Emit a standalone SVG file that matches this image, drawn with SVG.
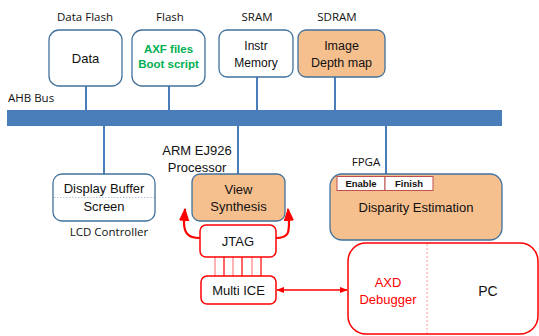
<svg xmlns="http://www.w3.org/2000/svg" width="539" height="336" viewBox="0 0 539 336">
  <defs>
    <style>
      .lbl { font-family: "Open Sans", "Liberation Sans", sans-serif; font-size: 11.5px; fill: #111; }
      .txt { font-family: "Liberation Sans", Arial, sans-serif; font-size: 13px; fill: #111; }
      .blue { fill: #ffffff; stroke: #41719C; stroke-width: 1.3; }
      .orange { fill: #F6BF8E; stroke: #41719C; stroke-width: 1.3; }
      .red { fill: #ffffff; stroke: #FF0000; stroke-width: 1.5; }
      .link { stroke: #4A7EBB; stroke-width: 2; fill: none; }
      .rline { stroke: #FF0000; stroke-width: 1.2; }
      .rline2 { stroke: #FF8080; stroke-width: 1.2; }
      .tag { fill: #ffffff; stroke: #C0504D; stroke-width: 1; }
      .tagtxt { font-family: "Liberation Sans", Arial, sans-serif; font-size: 9.5px; font-weight: bold; fill: #111; }
    </style>
    <marker id="arr" viewBox="0 0 10 10" refX="9" refY="5" markerWidth="6" markerHeight="6" orient="auto-start-reverse">
      <path d="M0,1 L10,5 L0,9 z" fill="#FF0000"/>
    </marker>
  </defs>

  <!-- bus and its links -->
  <g id="connectors">
    <rect x="7" y="110" width="495" height="16" fill="#4A7EBB"/>
    <line class="link" x1="86" y1="86" x2="86" y2="110"/>
    <line class="link" x1="169" y1="86" x2="169" y2="110"/>
    <line class="link" x1="257" y1="77" x2="257" y2="110"/>
    <line class="link" x1="335" y1="77" x2="335" y2="110"/>
    <line class="link" x1="104" y1="126" x2="104" y2="174"/>
    <line class="link" x1="238" y1="126" x2="238" y2="174"/>
    <line class="link" x1="386" y1="126" x2="386" y2="174"/>
    <!-- JTAG to processor -->
    <path d="M200,238 C187,238 184,232 184,222 L185,209" fill="none" stroke="#FF0000" stroke-width="2.2" marker-end="url(#arr)"/>
    <path d="M276,238 C289,238 289,232 289,222 L288,209" fill="none" stroke="#FF0000" stroke-width="2.2" marker-end="url(#arr)"/>
    <!-- JTAG to Multi ICE wires -->
    <line class="rline2" x1="215" y1="257" x2="215" y2="276"/>
    <line class="rline" x1="224" y1="257" x2="224" y2="276"/>
    <line class="rline2" x1="233" y1="257" x2="233" y2="276"/>
    <line class="rline" x1="242" y1="257" x2="242" y2="276"/>
    <line class="rline2" x1="252" y1="257" x2="252" y2="276"/>
    <line class="rline" x1="261" y1="257" x2="261" y2="276"/>
    <!-- Multi ICE to PC -->
    <line x1="277" y1="290" x2="347" y2="290" stroke="#FF0000" stroke-width="1.3" marker-start="url(#arr)" marker-end="url(#arr)"/>
  </g>

  <text class="lbl" x="8" y="102">AHB Bus</text>

  <g id="data-flash">
    <text class="lbl" x="85" y="21" text-anchor="middle">Data Flash</text>
    <rect class="blue" x="49" y="30" width="73" height="56" rx="10"/>
    <text class="txt" x="85.5" y="63" text-anchor="middle">Data</text>
  </g>

  <g id="flash">
    <text class="lbl" x="170" y="21" text-anchor="middle">Flash</text>
    <rect class="blue" x="132" y="30" width="73" height="56" rx="10"/>
    <text class="txt" x="168.5" y="53" text-anchor="middle" style="fill:#00B050;font-weight:bold;font-size:11.5px">AXF files</text>
    <text class="txt" x="168.5" y="68" text-anchor="middle" style="fill:#00B050;font-weight:bold;font-size:11.5px">Boot script</text>
  </g>

  <g id="sram">
    <text class="lbl" x="257" y="21" text-anchor="middle">SRAM</text>
    <rect class="blue" x="219" y="30" width="74" height="47" rx="8"/>
    <text class="txt" x="256" y="50" text-anchor="middle" style="font-size:12px">Instr</text>
    <text class="txt" x="256" y="67" text-anchor="middle" style="font-size:12px">Memory</text>
  </g>

  <g id="sdram">
    <text class="lbl" x="337" y="21" text-anchor="middle">SDRAM</text>
    <rect class="orange" x="298" y="30" width="87" height="47" rx="8"/>
    <text class="txt" x="341.5" y="50" text-anchor="middle" style="font-size:12.5px">Image</text>
    <text class="txt" x="341.5" y="67" text-anchor="middle" style="font-size:12.5px">Depth map</text>
  </g>

  <g id="lcd-controller">
    <rect class="blue" x="53" y="174" width="102" height="47" rx="9"/>
    <line x1="54" y1="197.5" x2="154" y2="197.5" stroke="#9DB5D6" stroke-width="0.8" stroke-dasharray="1.5,1.5"/>
    <text class="txt" x="104" y="193" text-anchor="middle">Display Buffer</text>
    <text class="txt" x="104" y="211" text-anchor="middle">Screen</text>
    <text class="lbl" x="109" y="236" text-anchor="middle">LCD Controller</text>
  </g>

  <g id="processor">
    <text class="txt" x="197" y="155" text-anchor="middle">ARM EJ926</text>
    <text class="txt" x="197" y="172" text-anchor="middle">Processor</text>
    <rect class="orange" x="192" y="174" width="93" height="47" rx="8"/>
    <text class="txt" x="238.5" y="194" text-anchor="middle">View</text>
    <text class="txt" x="238.5" y="211" text-anchor="middle">Synthesis</text>
  </g>

  <g id="fpga">
    <text class="lbl" x="366" y="166" text-anchor="middle">FPGA</text>
    <rect class="orange" x="330" y="174" width="172" height="66" rx="12"/>
    <rect class="tag" x="337" y="176.5" width="48" height="14"/>
    <rect class="tag" x="385" y="176.5" width="48" height="14"/>
    <text class="tagtxt" x="361" y="187" text-anchor="middle">Enable</text>
    <text class="tagtxt" x="409" y="187" text-anchor="middle">Finish</text>
    <text class="txt" x="416" y="212" text-anchor="middle">Disparity Estimation</text>
  </g>

  <g id="jtag">
    <rect class="red" x="200" y="225" width="76" height="32" rx="6"/>
    <text class="txt" x="238" y="246" text-anchor="middle">JTAG</text>
  </g>

  <g id="multi-ice">
    <rect class="red" x="201" y="276" width="75" height="28" rx="6"/>
    <text class="txt" x="238.5" y="295" text-anchor="middle">Multi ICE</text>
  </g>

  <g id="pc">
    <rect class="red" x="348" y="243" width="190" height="91" rx="18"/>
    <line x1="427" y1="244" x2="427" y2="333" stroke="#FF8080" stroke-width="0.8" stroke-dasharray="2,2"/>
    <text class="txt" x="388" y="287" text-anchor="middle" style="fill:#FF0000">AXD</text>
    <text class="txt" x="388" y="304" text-anchor="middle" style="fill:#FF0000">Debugger</text>
    <text class="txt" x="488" y="296" text-anchor="middle" style="font-size:14px">PC</text>
  </g>
</svg>
